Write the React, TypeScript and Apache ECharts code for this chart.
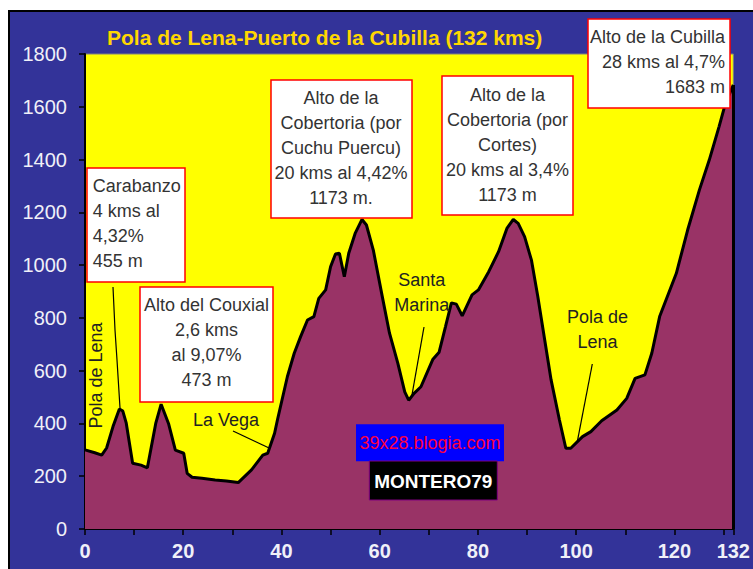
import React, { useEffect, useRef } from 'react';
import * as echarts from 'echarts';

const TITLE = 'Pola de Lena-Puerto de la Cubilla (132 kms)';

// Profile: distance (km) and elevation (m)
const kms = [
  0, 2, 3.4, 4.4, 5.7, 7, 7.7, 8.4, 9.7, 11.4,
  12.7, 14.4, 15.5, 17, 18.4, 20.1, 20.8, 21.8, 23.8, 26.5,
  28.8, 31.2, 33.9, 36.2, 37.2, 38.6, 39.2, 41.2, 42.6, 43.9,
  45.3, 46.6, 47.6, 49, 50, 51, 51.8, 52.8, 53.7, 55,
  56.4, 57.3, 58.7, 60.4, 62, 63.7, 65.1, 65.9, 67, 68.4,
  70.8, 72.1, 73.4, 74.6, 75.6, 76.8, 78.8, 80.1, 82.2, 84.2,
  85.9, 87.2, 88.2, 89.5, 90.9, 92.2, 93.6, 94.9, 96.6, 97.9,
  98.9, 101.3, 103, 105.2, 108.3, 110.3, 112, 114, 115.4, 117,
  120.4, 122.7, 125.1, 127.1, 129.1, 130.4, 132,
];
const elevations = [
  300, 289, 280, 307, 388, 455, 447, 401, 249, 242,
  232, 400, 473, 400, 299, 287, 211, 196, 192, 186,
  182, 176, 224, 280, 287, 363, 415, 577, 666, 729,
  792, 805, 874, 906, 994, 1042, 1045, 956, 1045, 1120,
  1173, 1152, 1057, 893, 742, 628, 520, 488, 514, 539,
  642, 670, 767, 857, 852, 808, 887, 906, 975, 1051,
  1139, 1173, 1158, 1108, 1019, 880, 716, 565, 413, 306,
  306, 350, 369, 410, 451, 495, 571, 584, 666, 805,
  969, 1133, 1285, 1398, 1525, 1613, 1683,
];

const xLabelValues = [0, 20, 40, 60, 80, 100, 120, 132];
const X_MIN = 0;
const X_MAX = 132;
const X_STEP = 10;
const Y_MIN = 0;
const Y_MAX = 1800;
const Y_STEP = 200;

const boxes = [
  { lines: ['Carabanzo', '4 kms al', '4,32%', '455 m'], align: 'left' },
  { lines: ['Alto del Couxial', '2,6 kms', 'al 9,07%', '473 m'], align: 'center' },
  { lines: ['Alto de la', 'Cobertoria (por', 'Cuchu Puercu)', '20 kms al 4,42%', '1173 m.'], align: 'center' },
  { lines: ['Alto de la', 'Cobertoria (por', 'Cortes)', '20 kms al 3,4%', '1173 m'], align: 'center' },
  { lines: ['Alto de la Cubilla', '28 kms al 4,7%', '1683 m'], align: 'right' },
];
const boxGeom = [
  { x: 77, y: 156, w: 98, h: 114, tx: 82.7, ty: 161.5 },
  { x: 130, y: 275, w: 133, h: 115, tx: 196.5, ty: 280.5 },
  { x: 261, y: 68, w: 141, h: 138, tx: 331, ty: 73.5 },
  { x: 432, y: 64, w: 131, h: 139, tx: 497.5, ty: 70.5 },
  { x: 578, y: 7, w: 142, h: 89, tx: 715, ty: 12.2 },
];

const FONT = 'Arial, "Liberation Sans", sans-serif';

export default function App() {
  const ref = useRef<HTMLDivElement>(null);
  useEffect(() => {
    const chart = echarts.init(ref.current!, null, { renderer: 'svg' });
    const data = kms.map((k, i) => [k, elevations[i]]);

    const graphics: any[] = [];
    graphics.push({
      type: 'text', z: 100, x: 97, y: 25,
      style: { text: TITLE, fill: '#FFD700', font: `bold 21px ${FONT}`, align: 'left', verticalAlign: 'middle' },
    });
    boxes.forEach((b, i) => {
      const g = boxGeom[i];
      graphics.push({
        type: 'rect', z: 100,
        shape: { x: g.x, y: g.y, width: g.w, height: g.h },
        style: { fill: '#FFFFFF', stroke: '#FF0000', lineWidth: 1.5 },
      });
      graphics.push({
        type: 'text', z: 101, x: g.tx, y: g.ty,
        style: {
          text: b.lines.join('\n'), fill: '#333333', font: `18px ${FONT}`,
          lineHeight: 25, align: b.align, verticalAlign: 'top',
        },
      });
    });
    const plainLabels = [
      { text: 'La Vega', x: 216, y: 395.5 },
      { text: 'Santa\nMarina', x: 411.7, y: 255.5 },
      { text: 'Pola de\nLena', x: 587.5, y: 292.8 },
    ];
    plainLabels.forEach((l) => {
      graphics.push({
        type: 'text', z: 100, x: l.x, y: l.y,
        style: { text: l.text, fill: '#222222', font: `18px ${FONT}`, lineHeight: 25, align: 'center', verticalAlign: 'top' },
      });
    });
    graphics.push({
      type: 'text', z: 100, x: 86, y: 363.5, rotation: Math.PI / 2,
      style: { text: 'Pola de Lena', fill: '#222222', font: `18px ${FONT}`, align: 'center', verticalAlign: 'middle' },
    });
    const leaders = [
      [[103, 275], [105, 318], [107, 348], [110, 396]],
      [[223, 419], [259, 436]],
      [[414, 315], [401.7, 384.7]],
      [[582.3, 352], [567.3, 429.7]],
    ];
    leaders.forEach((pts) => {
      graphics.push({
        type: 'polyline', z: 100,
        shape: { points: pts },
        style: { stroke: '#000000', lineWidth: 1.2, fill: 'none' },
      });
    });
    graphics.push({
      type: 'rect', z: 100, shape: { x: 346, y: 412.3, width: 148, height: 37 },
      style: { fill: '#0000FF' },
    });
    graphics.push({
      type: 'text', z: 101, x: 420, y: 431,
      style: { text: '39x28.blogia.com', fill: '#FF0040', font: `18px ${FONT}`, align: 'center', verticalAlign: 'middle' },
    });
    graphics.push({
      type: 'rect', z: 100, shape: { x: 359.3, y: 449, width: 128, height: 39 },
      style: { fill: '#000000', stroke: '#800080', lineWidth: 1 },
    });
    graphics.push({
      type: 'text', z: 101, x: 423.3, y: 469,
      style: { text: 'MONTERO79', fill: '#FFFFFF', font: `bold 19px ${FONT}`, align: 'center', verticalAlign: 'middle' },
    });

    chart.setOption({
      animation: false,
      backgroundColor: '#333399',
      grid: {
        left: 75, top: 42, right: 12, bottom: 40,
        show: true, backgroundColor: '#FFFF00', borderColor: '#808080', borderWidth: 1,
      },
      xAxis: {
        type: 'value', min: X_MIN, max: X_MAX, interval: X_STEP,
        axisLine: { show: true, onZero: false, lineStyle: { color: '#000', width: 2 } },
        axisTick: { show: true, inside: false, length: 6, lineStyle: { color: '#000', width: 1.5 } },
        splitLine: { show: false },
        axisLabel: {
          margin: 12, color: '#F0F0F8', fontSize: 20, fontWeight: 'bold', fontFamily: FONT,
          formatter: (v: number) => (xLabelValues.includes(v) ? String(v) : ''),
        },
      },
      yAxis: {
        type: 'value', min: Y_MIN, max: Y_MAX, interval: Y_STEP,
        axisLine: { show: true, lineStyle: { color: '#000', width: 2 } },
        axisTick: { show: true, inside: false, length: 6, lineStyle: { color: '#000', width: 1.5 } },
        splitLine: { show: false },
        axisLabel: {
          margin: 18, color: '#F0F0F8', fontSize: 20, fontFamily: FONT,
          formatter: (v: number) => String(v),
        },
      },
      series: [
        {
          type: 'line', data, symbol: 'none', z: 3,
          lineStyle: { color: '#000000', width: 3 },
          areaStyle: { color: '#993366', opacity: 1 },
          markLine: {
            silent: true, symbol: 'none', label: { show: false },
            lineStyle: { color: '#000', width: 3, type: 'solid' },
            data: [[{ coord: [kms[kms.length - 1], 0] }, { coord: [kms[kms.length - 1], elevations[elevations.length - 1]] }]],
          },
        },
      ],
      graphic: graphics,
    });
    return () => chart.dispose();
  }, []);
  return (
    <div
      style={{
        position: 'fixed', left: 8, top: 10, width: 745, height: 559, boxSizing: 'border-box',
        borderLeft: '2px solid #000', borderTop: '2px solid #000', background: '#333399', overflow: 'hidden',
      }}
    >
      <div ref={ref} style={{ width: 743, height: 557 }} />
    </div>
  );
}
